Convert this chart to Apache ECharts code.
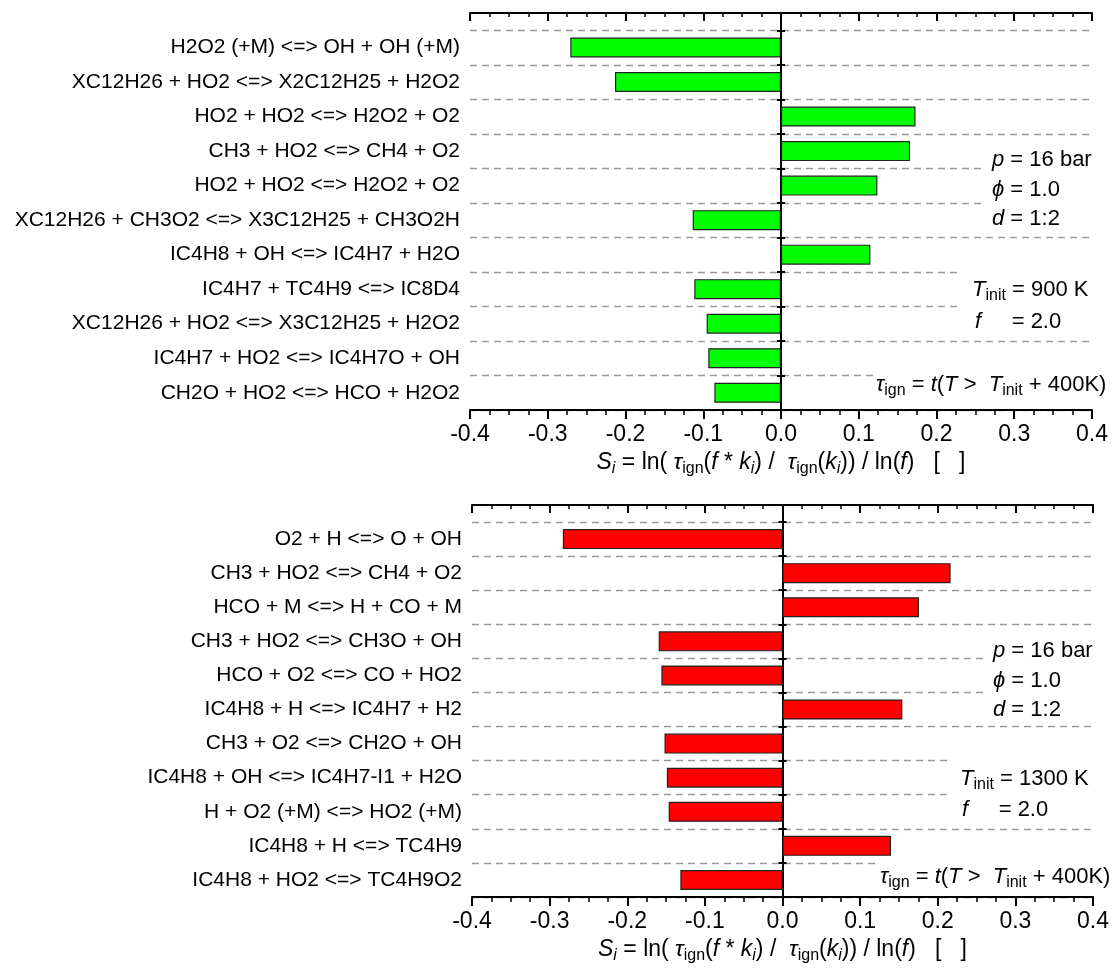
<!DOCTYPE html>
<html>
<head>
<meta charset="utf-8">
<script src="https://cdn.jsdelivr.net/npm/echarts@6/dist/echarts.min.js"></script>
<style>html,body{margin:0;padding:0;background:#fff}#c{width:1115px;height:973px}</style>
</head>
<body>
<div id="c"></div>
<script>
// ---- data ----
const topCategories = [
  'H2O2 (+M) <=> OH + OH (+M)',
  'XC12H26 + HO2 <=> X2C12H25 + H2O2',
  'HO2 + HO2 <=> H2O2 + O2',
  'CH3 + HO2 <=> CH4 + O2',
  'HO2 + HO2 <=> H2O2 + O2',
  'XC12H26 + CH3O2 <=> X3C12H25 + CH3O2H',
  'IC4H8 + OH <=> IC4H7 + H2O',
  'IC4H7 + TC4H9 <=> IC8D4',
  'XC12H26 + HO2 <=> X3C12H25 + H2O2',
  'IC4H7 + HO2 <=> IC4H7O + OH',
  'CH2O + HO2 <=> HCO + H2O2'
];
const topValues = [-0.271, -0.2135, 0.173, 0.166, 0.124, -0.1136, 0.115, -0.1115, -0.0956, -0.0935, -0.0857];

const bottomCategories = [
  'O2 + H <=> O + OH',
  'CH3 + HO2 <=> CH4 + O2',
  'HCO + M <=> H + CO + M',
  'CH3 + HO2 <=> CH3O + OH',
  'HCO + O2 <=> CO + HO2',
  'IC4H8 + H <=> IC4H7 + H2',
  'CH3 + O2 <=> CH2O + OH',
  'IC4H8 + OH <=> IC4H7-I1 + H2O',
  'H + O2 (+M) <=> HO2 (+M)',
  'IC4H8 + H <=> TC4H9',
  'IC4H8 + HO2 <=> TC4H9O2'
];
const bottomValues = [-0.283, 0.2166, 0.1758, -0.1595, -0.156, 0.1544, -0.152, -0.149, -0.1466, 0.1398, -0.1316];

const xMin = -0.4, xMax = 0.4, xStep = 0.1;

const axisName = '{i|S}{si|i}{n| = ln( }{i|τ}{s|ign}{n|(}{i|f}{n| * }{i|k}{si|i}{n|) /  }{i|τ}{s|ign}{n|(}{i|k}{si|i}{n|)) / ln(}{i|f}{n|)   [   ]}';
const topNotes = ['{i|p}{n| = 16 bar}', '{i|ϕ}{n| = 1.0}', '{i|d}{n| = 1:2}',
  '{i|T}{s|init}{n| = 900 K}', '{i|f}{n|     = 2.0}', '{i|τ}{s|ign}{n| = }{i|t}{n|(}{i|T}{n| >  }{i|T}{s|init}{n| + 400K)}'];
const bottomNotes = ['{i|p}{n| = 16 bar}', '{i|ϕ}{n| = 1.0}', '{i|d}{n| = 1:2}',
  '{i|T}{s|init}{n| = 1300 K}', '{i|f}{n|     = 2.0}', '{i|τ}{s|ign}{n| = }{i|t}{n|(}{i|T}{n| >  }{i|T}{s|init}{n| + 400K)}'];

// ---- styling ----
const F = '"Liberation Sans", Arial, Helvetica, sans-serif';
const nameRich = {
  n: { fontSize: 23, fontFamily: F, color: '#000', lineHeight: 29 },
  i: { fontSize: 23, fontFamily: F, fontStyle: 'italic', color: '#000', lineHeight: 29 },
  s: { fontSize: 16, fontFamily: F, color: '#000', verticalAlign: 'bottom' },
  si: { fontSize: 16, fontFamily: F, fontStyle: 'italic', color: '#000', verticalAlign: 'bottom' }
};
const noteRich = {
  n: { fontSize: 22, fontFamily: F, fill: '#000', lineHeight: 28 },
  i: { fontSize: 22, fontFamily: F, fontStyle: 'italic', fill: '#000', lineHeight: 28 },
  s: { fontSize: 16, fontFamily: F, fill: '#000', verticalAlign: 'bottom' }
};

const chart = echarts.init(document.getElementById('c'));

function boxAxes(gridIndex, withName) {
  const common = {
    type: 'value', gridIndex, min: xMin, max: xMax, interval: xStep,
    axisLine: { show: true, onZero: false, lineStyle: { color: '#000', width: 2 } },
    splitLine: { show: false }
  };
  return [
    Object.assign({}, common, {
      position: 'bottom',
      axisTick: { show: true, inside: false, length: 9, lineStyle: { color: '#000', width: 2 } },
      minorTick: { show: true, splitNumber: 4, length: 5, lineStyle: { color: '#000', width: 1.5 } },
      axisLabel: { show: true, fontSize: 23, fontFamily: F, color: '#000', margin: 13,
        formatter: v => v.toFixed(1) },
      name: withName ? axisName : '',
      nameLocation: 'middle', nameGap: 38,
      nameTextStyle: { rich: nameRich, fontSize: 23, fontFamily: F, color: '#000' }
    }),
    Object.assign({}, common, {
      position: 'top',
      axisTick: { show: true, inside: true, length: 8, lineStyle: { color: '#000', width: 2 } },
      minorTick: { show: true, splitNumber: 4, length: 4, lineStyle: { color: '#000', width: 1.5 } },
      axisLabel: { show: false }
    })
  ];
}

function hiddenX(gridIndex) {
  return { type: 'value', gridIndex, min: xMin, max: xMax, interval: xStep, show: false,
    axisLine: { onZero: false } };
}

function zeroLineY(gridIndex, xIdx) {
  return { type: 'value', gridIndex, min: 1, max: 2, position: 'left',
    axisLine: { show: true, onZero: true, onZeroAxisIndex: xIdx, lineStyle: { color: '#000', width: 2 } },
    axisTick: { show: false }, axisLabel: { show: false }, splitLine: { show: false } };
}

function labelY(gridIndex, cats) {
  return { type: 'category', gridIndex, data: cats, inverse: true, position: 'left',
    axisLine: { show: false, onZero: false },
    axisTick: { show: false },
    axisLabel: { show: true, interval: 0, fontSize: 21, fontFamily: F, color: '#000', margin: 10 },
    splitLine: { show: true, interval: 0, lineStyle: { color: '#9a9a9a', width: 1.4, type: [7, 5] } } };
}

function tickY(gridIndex, cats, xIdx, inside) {
  return { type: 'category', gridIndex, data: cats, inverse: true, position: 'left',
    axisLine: { show: false, onZero: true, onZeroAxisIndex: xIdx },
    axisTick: { show: true, interval: 0, inside, length: 4, lineStyle: { color: '#000', width: 2 } },
    axisLabel: { show: false }, splitLine: { show: false } };
}

const topBand = 397 / 11.5;
const botBand = 392 / 11.5;

// box grids (axes frame) and bar grids (11 category bands ending at the bottom axis)
const grids = [
  { left: 470, right: 23, top: 13, height: 397 },
  { left: 470, right: 23, top: 410 - 11 * topBand, height: 11 * topBand },
  { left: 472, right: 22, top: 505, height: 392 },
  { left: 472, right: 22, top: 897 - 11 * botBand, height: 11 * botBand }
];

const xAxes = [].concat(boxAxes(0, true), [hiddenX(1)], boxAxes(2, true), [hiddenX(3)]);
const yAxes = [
  zeroLineY(0, 0),
  labelY(1, topCategories),
  tickY(1, topCategories, 2, true),
  tickY(1, topCategories, 2, false),
  zeroLineY(2, 3),
  labelY(3, bottomCategories),
  tickY(3, bottomCategories, 5, true),
  tickY(3, bottomCategories, 5, false)
];

function notesGraphic(notes, pos) {
  return notes.map((t, k) => ({
    type: 'text', z: 101, x: pos[k][0], y: pos[k][1],
    style: { text: t, rich: noteRich, align: 'left', verticalAlign: 'middle', fill: '#000' }
  }));
}
function whiteRect(x, y, w, h) {
  return { type: 'rect', z: 100, shape: { x, y, width: w, height: h }, style: { fill: '#fff' } };
}

const graphics = [
  whiteRect(986, 146, 129, 86), whiteRect(962, 262, 153, 72), whiteRect(873, 366, 242, 40),
  whiteRect(986, 636, 129, 86), whiteRect(947, 750, 168, 72), whiteRect(878, 857, 237, 37)
].concat(
  notesGraphic(topNotes, [[992, 160], [992, 190], [992, 219], [972, 290], [975, 322], [876, 385]]),
  notesGraphic(bottomNotes, [[993, 651], [993, 681], [993, 710], [960, 779], [962, 810], [880, 877]])
);

chart.setOption({
  animation: false,
  backgroundColor: '#fff',
  grid: grids,
  xAxis: xAxes,
  yAxis: yAxes,
  series: [
    { type: 'bar', xAxisIndex: 2, yAxisIndex: 1, data: topValues, barWidth: 20,
      itemStyle: { color: '#00ff00', borderColor: '#222', borderWidth: 1.2 } },
    { type: 'bar', xAxisIndex: 5, yAxisIndex: 5, data: bottomValues, barWidth: 20,
      itemStyle: { color: '#ff0000', borderColor: '#222', borderWidth: 1.2 } }
  ],
  graphic: graphics
});
</script>
</body>
</html>
